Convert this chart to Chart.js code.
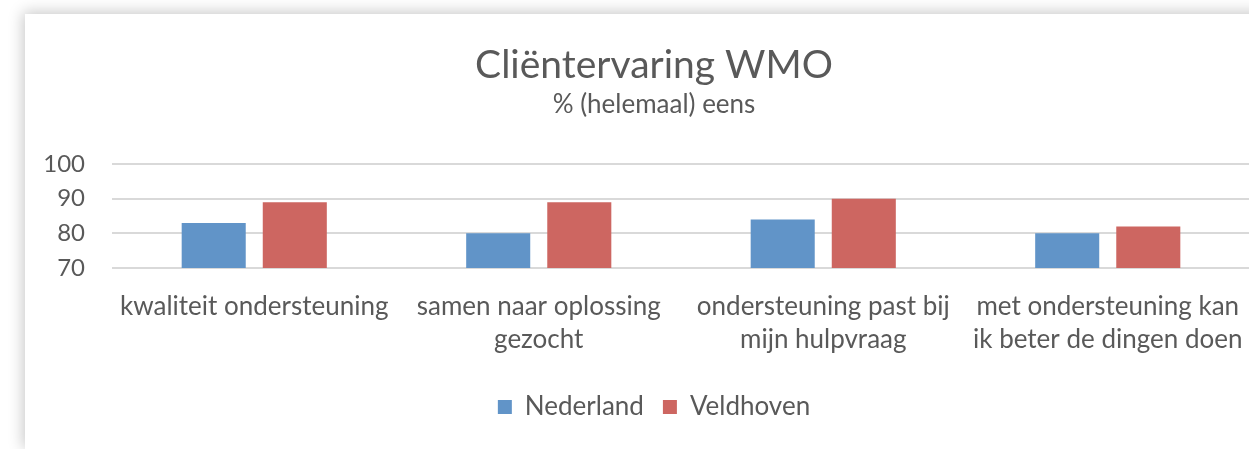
<!DOCTYPE html>
<html>
<head>
<meta charset="utf-8">
<script src="https://cdn.jsdelivr.net/npm/chart.js@4.4.1/dist/chart.umd.min.js"></script>
<style>
  html, body { margin: 0; padding: 0; background: #fff; overflow: hidden; width: 1249px; height: 449px; }
  #card {
    position: absolute; left: 25px; top: 14px; width: 1258px; height: 436px;
    background: #fff; box-shadow: -2px -2px 14px rgba(0,0,0,0.22);
  }
</style>
</head>
<body>
<div id="card"><canvas id="wmoChart" width="1258" height="436"></canvas></div>
<script>
const categories = [
  'kwaliteit ondersteuning',
  ['samen naar oplossing', 'gezocht'],
  ['ondersteuning past bij', 'mijn hulpvraag'],
  ['met ondersteuning kan', 'ik beter de dingen doen']
];
const nederland = [83, 80, 84, 80];
const veldhoven = [89, 89, 90, 82];
const yTicks = [70, 80, 90, 100];

const FONT = 'Lato, "Open Sans", sans-serif';
const GREY = '#595959';

const ctx = document.getElementById('wmoChart').getContext('2d');

new Chart(ctx, {
  type: 'bar',
  data: {
    labels: categories,
    datasets: [
      { label: 'Nederland', data: nederland, backgroundColor: '#6194c8' },
      { label: 'Veldhoven', data: veldhoven, backgroundColor: '#cd6661' }
    ]
  },
  options: {
    responsive: false,
    animation: false,
    devicePixelRatio: 1,
    categoryPercentage: 0.57,
    barPercentage: 0.79,
    layout: { padding: { left: 0, right: 0, top: 0, bottom: 20 } },
    plugins: {
      title: {
        display: true,
        text: 'Cliëntervaring WMO',
        color: GREY,
        font: { family: FONT, size: 39, weight: 'normal' },
        padding: { top: 28, bottom: 0 }
      },
      subtitle: {
        display: true,
        text: '% (helemaal) eens',
        color: GREY,
        font: { family: FONT, size: 26, weight: 'normal' },
        padding: { top: 0, bottom: 44 }
      },
      legend: {
        position: 'bottom',
        labels: {
          color: GREY,
          font: { family: FONT, size: 26 },
          boxWidth: 14,
          boxHeight: 14,
          padding: 19
        }
      },
      tooltip: { enabled: false }
    },
    scales: {
      x: {
        grid: { display: false, drawTicks: false },
        border: { display: false },
        ticks: {
          color: GREY,
          font: { family: FONT, size: 26, lineHeight: '33px' },
          padding: 22,
          maxRotation: 0,
          autoSkip: false
        },
        afterFit: (axis) => { axis.height = 107; }
      },
      y: {
        min: 70,
        max: 100,
        grid: { color: '#d9d9d9', lineWidth: 2, drawTicks: false },
        border: { display: false },
        afterBuildTicks: (axis) => { axis.ticks = yTicks.map(v => ({ value: v })); },
        ticks: {
          color: GREY,
          font: { family: FONT, size: 24 },
          padding: 27
        },
        afterFit: (axis) => { axis.width = 87; }
      },
      // empty right-hand spacer so the plot stops where the card's right margin begins
      yRight: {
        position: 'right',
        grid: { display: false, drawTicks: false },
        border: { display: false },
        ticks: { display: false },
        afterFit: (axis) => { axis.width = 33; }
      }
    }
  }
});
</script>
</body>
</html>
